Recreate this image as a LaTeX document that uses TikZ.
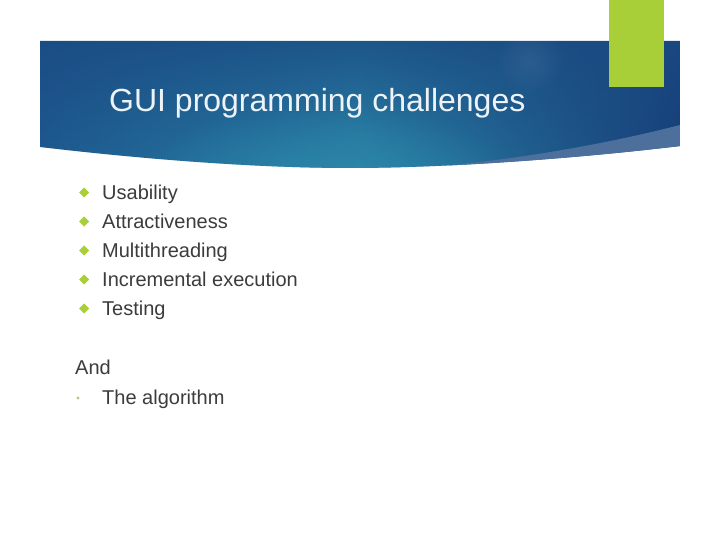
\documentclass[tikz,border=0pt]{standalone}
\usepackage{fontspec}
\setmainfont{Liberation Sans}
\usetikzlibrary{fadings}
\definecolor{bnLeft}{HTML}{1E5A90}
\definecolor{bnMid}{HTML}{2B86A9}
\definecolor{bnRight}{HTML}{173E78}
\definecolor{bnTop}{HTML}{1A4A82}
\definecolor{bnBand}{HTML}{4C6F9B}
\definecolor{lime}{HTML}{A8CE38}
\definecolor{txtgray}{HTML}{3C3C3C}
\definecolor{titlewhite}{HTML}{EEF3F8}
\tikzfading[name=fadetop, top color=transparent!20, bottom color=transparent!100]
\tikzfading[name=glowfade, inner color=transparent!30, outer color=transparent!100]
\tikzset{
  itemtext/.style={anchor=base west, inner sep=0pt, text=txtgray, font=\fontsize{20}{22}\selectfont},
  diamondbullet/.style={fill=lime, draw=none},
}
\begin{document}
\begin{tikzpicture}[x=1pt,y=-1pt]
\useasboundingbox (0,0) rectangle (720,540);
\fill[white] (0,0) rectangle (720,540);
% banner
\def\bannerpath{(40,41) -- (680,41) -- (680,146) .. controls (580,158) and (450,168) .. (350,168) .. controls (260,168) and (150,160) .. (40,147) -- cycle}
\begin{scope}
  \clip \bannerpath;
  \shade[left color=bnLeft, right color=bnRight, middle color=bnMid] (40,41) rectangle (680,170);
  \fill[bnTop, path fading=fadetop] (40,41) rectangle (680,170);
  \fill[bnMid, path fading=glowfade] (330,175) ellipse (190 and 70);
  \fill[white, opacity=0.1, path fading=glowfade] (530,60) circle (35);
  \fill[bnBand] (680,125) .. controls (590,148) and (490,164) .. (390,170) -- (680,175) -- cycle;
\end{scope}
% green bar
\fill[lime] (609,0) rectangle (664,87);
% title
\node[anchor=base west, inner sep=0pt, text=titlewhite, font=\fontsize{32}{34}\selectfont] (title) at (109,112) {GUI programming challenges};
% bullets
\foreach \t/\y [count=\i] in {Usability/199.5,Attractiveness/228.5,Multithreading/257.5,Incremental execution/286.5,Testing/315.5}{
  \node[itemtext] (item\i) at (102,\y) {\t};
  \fill[diamondbullet] (84,\y-7) ++(-5,0) -- ++(5,-5) -- ++(5,5) -- ++(-5,5) -- cycle;
}
\node[itemtext] (andtext) at (75,374) {And};
\node[itemtext] (algo) at (102,404) {The algorithm};
\fill[lime!60!gray!70] (78,398) circle (1.6);
\end{tikzpicture}
\end{document}
